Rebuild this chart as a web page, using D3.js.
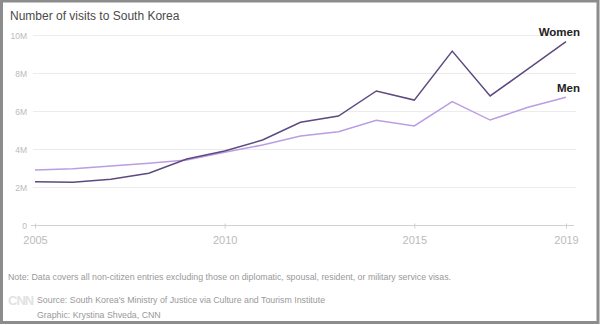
<!DOCTYPE html>
<html>
<head>
<meta charset="utf-8">
<script src="https://cdn.jsdelivr.net/npm/d3@7"></script>
<style>
  html, body { margin: 0; padding: 0; background: #fff; }
  svg { display: block; font-family: "Liberation Sans", Arial, sans-serif; }
</style>
</head>
<body>
<svg id="chart" width="600" height="325"></svg>
<script>
// --- DATA ---
const years = [2005, 2006, 2007, 2008, 2009, 2010, 2011, 2012, 2013, 2014, 2015, 2016, 2017, 2018, 2019];
const women = [2.30, 2.28, 2.43, 2.75, 3.50, 3.92, 4.50, 5.43, 5.76, 7.08, 6.60, 9.18, 6.82, 8.24, 9.68];
const men = [2.92, 2.99, 3.13, 3.27, 3.45, 3.85, 4.24, 4.71, 4.94, 5.54, 5.24, 6.52, 5.55, 6.22, 6.75];
const yTicks = [0, 2, 4, 6, 8, 10];
const yTickLabels = ["0", "2M", "4M", "6M", "8M", "10M"];
const xTicks = [2005, 2010, 2015, 2019];

// --- SETUP ---
const svg = d3.select("#chart");

const xScale = d3.scaleLinear().domain([2005, 2019]).range([35, 566]);
const yScale = d3.scaleLinear().domain([0, 10]).range([225.5, 35.5]);

// frame
svg.append("rect")
    .attr("x", 1.5).attr("y", 1)
    .attr("width", 596.5).attr("height", 321.5)
    .attr("fill", "none")
    .attr("stroke", "#8c8c8c")
    .attr("stroke-width", 3);

// title
svg.append("text")
    .attr("x", 10).attr("y", 19.5)
    .attr("font-size", 12)
    .attr("fill", "#4a4a4a")
    .text("Number of visits to South Korea");

// gridlines
svg.append("g").selectAll("line")
    .data(yTicks.filter(d => d > 0))
    .join("line")
    .attr("x1", 33).attr("x2", 576)
    .attr("y1", d => yScale(d)).attr("y2", d => yScale(d))
    .attr("stroke", "#ececec")
    .attr("stroke-width", 1);

// y labels
svg.append("g").selectAll("text")
    .data(yTicks)
    .join("text")
    .attr("x", 27)
    .attr("y", d => yScale(d) + 3)
    .attr("text-anchor", "end")
    .attr("font-size", 8.5)
    .attr("fill", "#bbb")
    .text((d, i) => yTickLabels[i]);

// x axis
const xAxis = d3.axisBottom(xScale)
    .tickValues(xTicks)
    .tickFormat(d3.format("d"))
    .tickSize(3)
    .tickPadding(8);

const xAxisGroup = svg.append("g")
    .attr("transform", `translate(0,${yScale(0)})`)
    .call(xAxis);

xAxisGroup.select(".domain")
    .attr("d", `M31,0H574`)
    .attr("stroke", "#d0d0d0");
xAxisGroup.selectAll(".tick line")
    .attr("y1", -2)
    .attr("stroke", "#cfcfcf");
xAxisGroup.selectAll(".tick text")
    .attr("font-family", "Liberation Sans, Arial, sans-serif")
    .attr("font-size", 11)
    .attr("fill", "#bbb");

// lines
const line = d3.line()
    .x((d, i) => xScale(years[i]))
    .y(d => yScale(d));

svg.append("path")
    .datum(men)
    .attr("d", line)
    .attr("fill", "none")
    .attr("stroke", "#bb9de3")
    .attr("stroke-width", 1.5);

svg.append("path")
    .datum(women)
    .attr("d", line)
    .attr("fill", "none")
    .attr("stroke", "#5d4a7e")
    .attr("stroke-width", 1.5);

// series labels
svg.append("text")
    .attr("x", 580).attr("y", 36)
    .attr("text-anchor", "end")
    .attr("font-size", 11.5)
    .attr("font-weight", "bold")
    .attr("fill", "#222")
    .text("Women");

svg.append("text")
    .attr("x", 580).attr("y", 92)
    .attr("text-anchor", "end")
    .attr("font-size", 11.5)
    .attr("font-weight", "bold")
    .attr("fill", "#222")
    .text("Men");

// footer
svg.append("text")
    .attr("x", 8).attr("y", 279.5)
    .attr("font-size", 8.8)
    .attr("fill", "#999")
    .text("Note: Data covers all non-citizen entries excluding those on diplomatic, spousal, resident, or military service visas.");

svg.append("text")
    .attr("x", 8).attr("y", 305)
    .attr("font-size", 13)
    .attr("font-weight", "bold")
    .attr("letter-spacing", -1)
    .attr("fill", "#e2e2e2")
    .text("CNN");

svg.append("text")
    .attr("x", 37).attr("y", 302.5)
    .attr("font-size", 8.8)
    .attr("fill", "#999")
    .text("Source: South Korea's Ministry of Justice via Culture and Tourism Institute");

svg.append("text")
    .attr("x", 37).attr("y", 317.5)
    .attr("font-size", 8.8)
    .attr("fill", "#999")
    .text("Graphic: Krystina Shveda, CNN");
</script>
</body>
</html>
